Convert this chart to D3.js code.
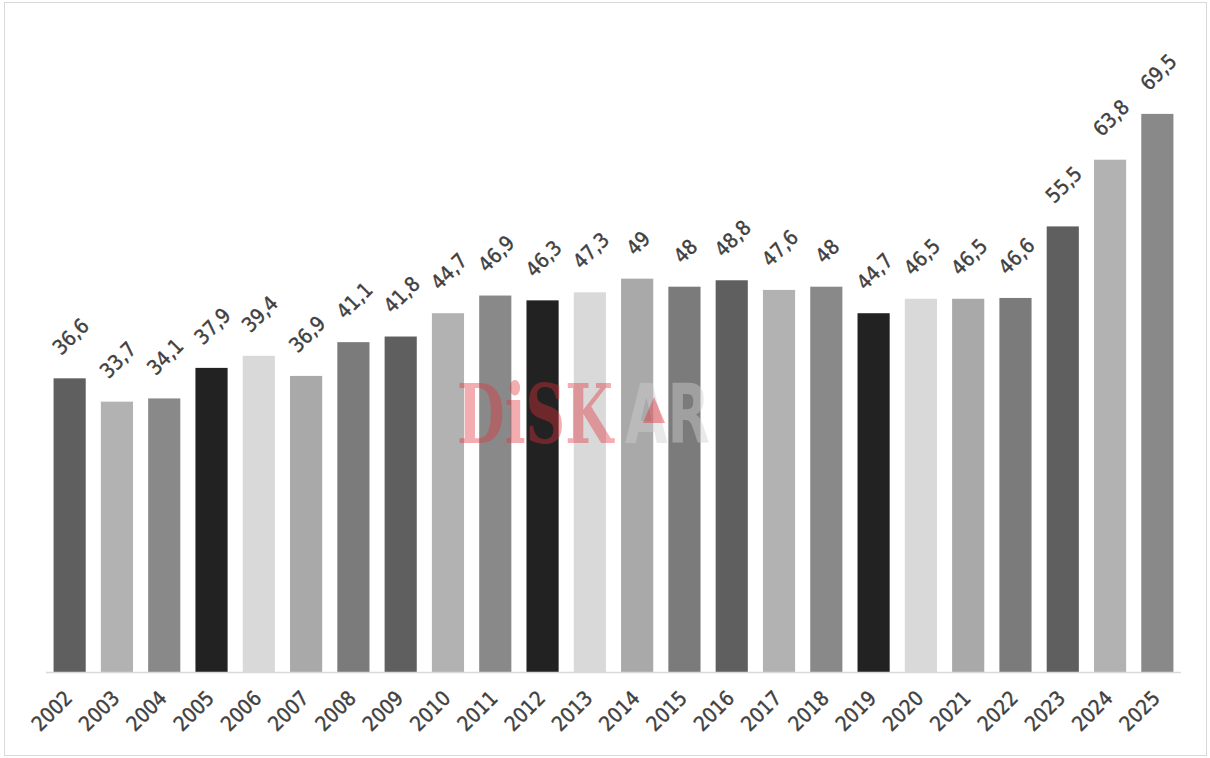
<!DOCTYPE html>
<html>
<head>
<meta charset="utf-8">
<script src="https://cdn.jsdelivr.net/npm/d3@7"></script>
<style>
  html, body { margin: 0; padding: 0; background: #fff; }
  svg { display: block; }
</style>
</head>
<body>
<div id="chart"></div>
<script>
const years = ["2002","2003","2004","2005","2006","2007","2008","2009","2010","2011","2012","2013",
  "2014","2015","2016","2017","2018","2019","2020","2021","2022","2023","2024","2025"];
const values = [36.6, 33.7, 34.1, 37.9, 39.4, 36.9, 41.1, 41.8, 44.7, 46.9, 46.3, 47.3,
  49, 48, 48.8, 47.6, 48, 44.7, 46.5, 46.5, 46.6, 55.5, 63.8, 69.5];
const palette = ["#5f5f5f", "#b2b2b2", "#898989", "#222222", "#d9d9d9", "#a9a9a9", "#7b7b7b"];

const W = 1210, H = 758;
const margin = { left: 46, right: 29, top: 29.5, bottom: 85.5 };

const svg = d3.select("#chart").append("svg")
  .attr("width", W)
  .attr("height", H);

// outer frame
svg.append("rect")
  .attr("x", 4.5).attr("y", 2.5)
  .attr("width", W - 8).attr("height", H - 5)
  .attr("fill", "#fff")
  .attr("stroke", "#d9d9d9")
  .attr("stroke-width", 1);

const x = d3.scaleBand()
  .domain(years)
  .range([margin.left, W - margin.right])
  .paddingInner(0.32)
  .paddingOuter(0.16);

const y = d3.scaleLinear()
  .domain([0, 80])
  .range([H - margin.bottom, margin.top]);

const labelFont = "'DejaVu Sans Condensed', 'DejaVu Sans', sans-serif";
const fs = 20.5;

// bars
svg.append("g")
  .selectAll("rect")
  .data(values)
  .join("rect")
  .attr("x", (d, i) => x(years[i]))
  .attr("y", d => y(d))
  .attr("width", x.bandwidth())
  .attr("height", d => y(0) - y(d))
  .attr("fill", (d, i) => palette[i % palette.length]);

// baseline
svg.append("line")
  .attr("x1", margin.left).attr("x2", W - margin.right)
  .attr("y1", y(0)).attr("y2", y(0))
  .attr("stroke", "#d9d9d9")
  .attr("stroke-width", 1.5);

// watermark: squeeze each part horizontally to its width in the reference
function stamp(str, left, width, family, fill, op) {
  const g = svg.append("g");
  const t = g.append("text")
    .attr("font-family", family)
    .attr("font-weight", "bold")
    .attr("font-size", 82)
    .attr("fill", fill)
    .attr("fill-opacity", op)
    .text(str);
  const sx = width / t.node().getComputedTextLength();
  g.attr("transform", `translate(${left},443) scale(${sx},1)`);
}
stamp("DiSK", 457, 156, "'DejaVu Serif', serif", "#e0303a", 0.4);
stamp("AR", 625, 85, "'DejaVu Sans', sans-serif", "#cfcfcf", 0.45);
svg.append("path")
  .attr("transform", "translate(457,443)")
  .attr("d", "M186,-20 L197,-46 L208,-20 Z")
  .attr("fill", "#e0303a")
  .attr("fill-opacity", 0.45);

// value labels: rotated box sits ~23px above the bar
const vLabels = svg.append("g")
  .selectAll("text")
  .data(values)
  .join("text")
  .attr("text-anchor", "middle")
  .attr("dy", "0.35em")
  .attr("font-family", labelFont)
  .attr("font-size", fs)
  .attr("fill", "#404040")
  .attr("stroke", "#404040")
  .attr("stroke-width", 0.4)
  .text(d => String(d).replace(".", ","));

vLabels.attr("transform", function (d, i) {
  const w = this.getComputedTextLength();
  const ext = (w + fs * 0.73) / Math.SQRT2;
  const cx = x(years[i]) + x.bandwidth() / 2;
  return `translate(${cx + 1},${y(d) - 22 - ext / 2}) rotate(-45)`;
});

// x axis labels: top-right corner of the rotated text near the bar centre
svg.append("g")
  .selectAll("text")
  .data(years)
  .join("text")
  .attr("transform", d => `translate(${x(d) + x.bandwidth() / 2 - 7},${y(0) + 16}) rotate(-45)`)
  .attr("text-anchor", "end")
  .attr("dy", "0.75em")
  .attr("font-family", labelFont)
  .attr("font-size", fs)
  .attr("fill", "#404040")
  .attr("stroke", "#404040")
  .attr("stroke-width", 0.4)
  .text(d => d);
</script>
</body>
</html>
